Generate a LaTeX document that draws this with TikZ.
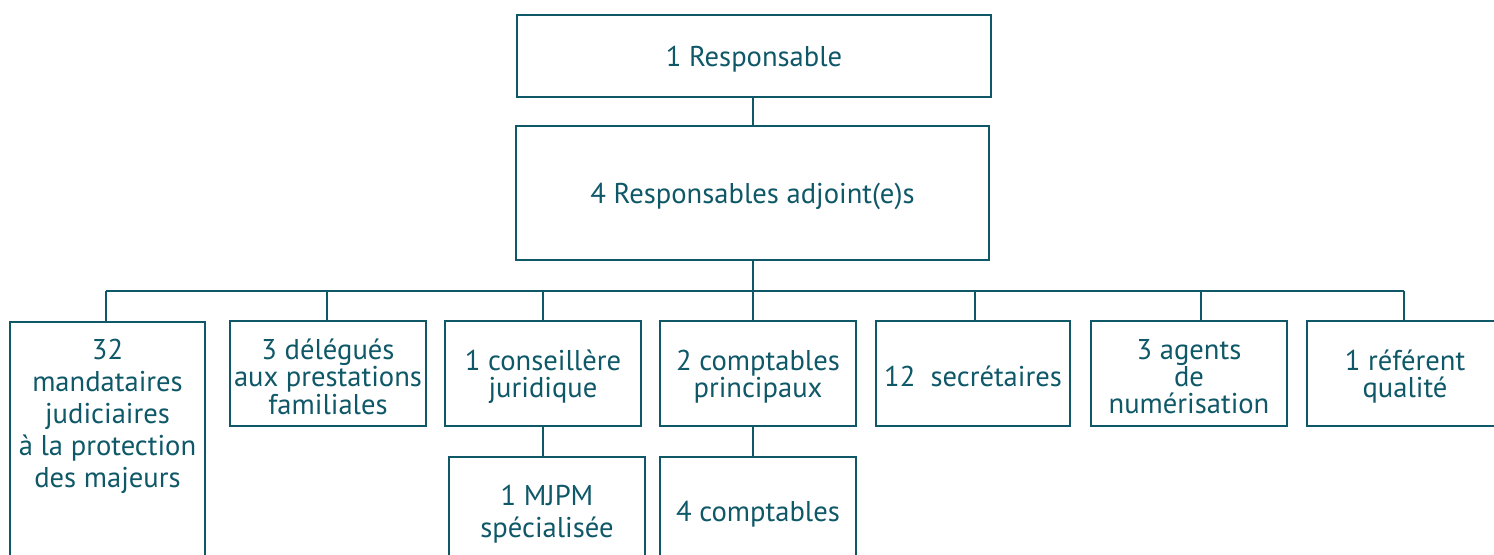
\documentclass[tikz,border=0pt]{standalone}
\usepackage{fontspec}
\setmainfont{PT Sans}
\definecolor{orgteal}{HTML}{0F5868}
\begin{document}
\begin{tikzpicture}[x=0.5pt,y=-0.5pt,
  txt/.style={text=orgteal, align=center, inner sep=0pt, font=\fontsize{14.3}{13.7}\selectfont},
  wtxt/.style={txt, font=\fontsize{14.3}{16}\selectfont},
  box/.style={draw=orgteal, line width=1pt, inner sep=0pt},
  inbox/.style={box, label={[txt, yshift=-1.6pt]center:{#1}}},
  winbox/.style={box, label={[wtxt, yshift=-1.6pt]center:{#1}}},
  rowbox/.style={inbox={#1}, minimum width=98pt, minimum height=52.5pt},
  link/.style={draw=orgteal, line width=1pt}]
\clip (0,0) rectangle (1494,555);
\fill[white] (0,0) rectangle (1494,555);
\node[inbox={1 Responsable}, minimum width=237pt, minimum height=41pt] (top) at (754,56) {};
\node[inbox={4 Responsables adjoint(e)s}, minimum width=236.5pt, minimum height=67pt] (adj) at (752.5,193) {};
\coordinate (bus) at (0,291);
% bottom row
\node[box, minimum width=97.5pt, minimum height=130pt, anchor=north] (b1) at (107.5,321) {};
\node[wtxt] (t1) at (107.5,416) {32\\mandataires\\judiciaires\\à la protection\\des majeurs};
\node[rowbox={3 délégués\\aux prestations\\familiales}] (b2) at (328,373.5) {};
\node[rowbox={1 conseillère\\juridique}] (b3) at (543,373.5) {};
\node[rowbox={2 comptables\\principaux}] (b4) at (758,373.5) {};
\node[rowbox={12\ \ secrétaires}, minimum width=97pt] (b5) at (973,373.5) {};
\node[rowbox={3 agents\\de\\numérisation}] (b6) at (1189,373.5) {};
\node[rowbox={1 référent\\qualité}] (b7) at (1405,373.5) {};
% sub boxes
\node[winbox={1 MJPM\\spécialisée}, minimum width=98pt, minimum height=54pt] (c3) at (547,511) {};
\node[inbox={4 comptables}, minimum width=98pt, minimum height=54pt] (c4) at (758,511) {};
% connectors
\draw[link] (top.south -| adj.north) -- (adj.north);
\draw[link] (adj.south) -- (adj.south |- b4.north);
\draw[link] ([xshift=-0.75pt]b1.north |- bus) -- ([xshift=-0.5pt]b7.north |- bus);
\draw[link] ([xshift=-0.75pt]b1.north |- bus) -- ([xshift=-0.75pt]b1.north);
\draw[link] ([xshift=-0.5pt]b2.north |- bus) -- ([xshift=-0.5pt]b2.north);
\draw[link] (b3.north |- bus) -- (b3.north);
\draw[link] ([xshift=1pt]b5.north |- bus) -- ([xshift=1pt]b5.north);
\draw[link] ([xshift=6pt]b6.north |- bus) -- ([xshift=6pt]b6.north);
\draw[link] ([xshift=-0.5pt]b7.north |- bus) -- ([xshift=-0.5pt]b7.north);
\draw[link] (b3.south) -- (b3.south |- c3.north);
\draw[link] (b4.south -| adj.south) -- (c4.north -| adj.south);
\end{tikzpicture}
\end{document}
